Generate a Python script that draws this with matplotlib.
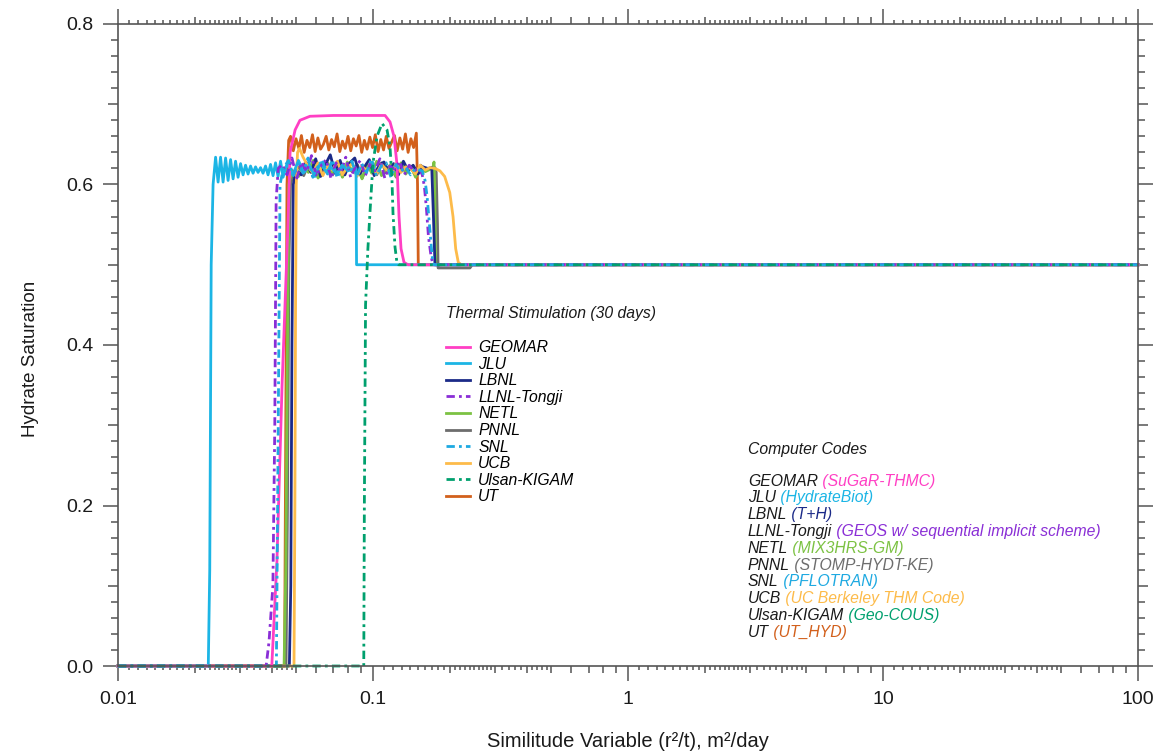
import numpy as np
import matplotlib
matplotlib.use("Agg")
import matplotlib.pyplot as plt

plt.rcParams['font.family'] = ['Liberation Sans', 'DejaVu Sans']

# hydrate saturation profiles vs similitude variable (r^2/t) after 30 days of heating
geomar_x = [0.01, 0.0401, 0.0420, 0.0440, 0.0464, 0.0469, 0.0473, 0.0495, 0.0517, 0.0566, 0.0700,
            0.0900, 0.1115, 0.1166, 0.1209, 0.1242, 0.1265, 0.1288, 0.1323, 0.1372, 100]
geomar_s = [0, 0, 0.13, 0.35, 0.55, 0.60, 0.640, 0.668, 0.680, 0.685, 0.686,
            0.686, 0.686, 0.678, 0.660, 0.625, 0.560, 0.520, 0.503, 0.500, 0.500]

jlu_x = [0.01, 0.0226, 0.0229, 0.0232, 0.0236,
         0.02414, 0.02469, 0.02525, 0.02583, 0.02642, 0.02702, 0.02764, 0.02827, 0.02891, 0.02957,
         0.03025, 0.03094, 0.03164, 0.03236, 0.03310, 0.03386, 0.03463, 0.03542, 0.03623, 0.03706,
         0.03790, 0.03877, 0.03965, 0.04056, 0.04148, 0.04243, 0.04340, 0.04439,
         0.0460, 0.0485, 0.0510, 0.0536, 0.0563, 0.0592, 0.0622, 0.0654, 0.0687, 0.0722, 0.0759,
         0.0797, 0.0830, 0.0858, 0.0862, 100]
jlu_s = [0, 0, 0.12, 0.50, 0.60,
         0.634, 0.603, 0.634, 0.603, 0.633, 0.605, 0.631, 0.607, 0.629, 0.609,
         0.626, 0.612, 0.624, 0.613, 0.623, 0.614, 0.622, 0.615, 0.621, 0.614,
         0.623, 0.612, 0.625, 0.611, 0.627, 0.610, 0.629, 0.609,
         0.626, 0.612, 0.630, 0.615, 0.624, 0.610, 0.627, 0.616, 0.621, 0.613, 0.624,
         0.617, 0.619, 0.620, 0.500, 0.500]

lbnl_x = [0.01, 0.0470, 0.0476, 0.0481, 0.0487,
          0.0500, 0.0523, 0.0546, 0.0571, 0.0596, 0.0623, 0.0651, 0.0680, 0.0711, 0.0743,
          0.0776, 0.0811, 0.0848, 0.0886, 0.0926, 0.0967, 0.1011, 0.1056, 0.1104, 0.1153,
          0.1205, 0.1259, 0.1316, 0.1375, 0.1437, 0.1502, 0.1570, 0.1640,
          0.1700, 0.1726, 0.1750, 100]
lbnl_s = [0, 0, 0.10, 0.40, 0.60,
          0.618, 0.612, 0.628, 0.615, 0.632, 0.610, 0.625, 0.637, 0.614, 0.630,
          0.612, 0.627, 0.633, 0.613, 0.622, 0.631, 0.611, 0.624, 0.628, 0.615,
          0.626, 0.612, 0.629, 0.617, 0.624, 0.613, 0.622, 0.620,
          0.621, 0.560, 0.500, 0.500]

llnl_x = [0.01, 0.0381, 0.0391, 0.0405, 0.0412, 0.0417, 0.0425,
          0.0440, 0.0460, 0.0481, 0.0503, 0.0525, 0.0549, 0.0574, 0.0600, 0.0627, 0.0655,
          0.0685, 0.0716, 0.0748, 0.0782, 0.0817, 0.0854, 0.0892, 0.0933, 0.0975, 0.1019,
          0.1064, 0.1112, 0.1163, 0.1215, 0.1270, 0.1327, 0.1387, 0.1449, 0.1500,
          0.1530, 0.1560, 0.1590, 0.1620, 0.1650, 0.1690, 0.1720, 100]
llnl_s = [0, 0, 0.03, 0.10, 0.30, 0.58, 0.62,
          0.625, 0.612, 0.633, 0.608, 0.628, 0.616, 0.636, 0.610, 0.624, 0.631,
          0.607, 0.627, 0.615, 0.634, 0.609, 0.622, 0.630, 0.611, 0.626, 0.617,
          0.632, 0.608, 0.623, 0.619, 0.629, 0.612, 0.624, 0.616, 0.621,
          0.618, 0.612, 0.598, 0.570, 0.535, 0.510, 0.500, 0.500]

netl_x = [0.01, 0.0448, 0.0455, 0.0462, 0.0468, 0.0480,
          0.0511, 0.0534, 0.0558, 0.0583, 0.0609, 0.0637, 0.0665, 0.0695, 0.0727, 0.0759,
          0.0793, 0.0829, 0.0867, 0.0906, 0.0946, 0.0989, 0.1033, 0.1080, 0.1128, 0.1179,
          0.1232, 0.1288, 0.1345, 0.1406, 0.1469, 0.1535, 0.1604, 0.1676,
          0.1715, 0.1735, 0.1745, 0.1760, 100]
netl_s = [0, 0, 0.12, 0.40, 0.60, 0.618,
          0.610, 0.624, 0.615, 0.630, 0.608, 0.621, 0.627, 0.612, 0.625, 0.609,
          0.628, 0.616, 0.622, 0.607, 0.626, 0.614, 0.629, 0.611, 0.620, 0.625,
          0.610, 0.627, 0.613, 0.623, 0.609, 0.621, 0.616, 0.619,
          0.620, 0.628, 0.600, 0.500, 0.500]

pnnl_x = [0.01, 0.0456, 0.0462, 0.0468, 0.0475,
          0.0490, 0.0512, 0.0535, 0.0559, 0.0584, 0.0610, 0.0638, 0.0666, 0.0696, 0.0728,
          0.0760, 0.0795, 0.0830, 0.0868, 0.0907, 0.0948, 0.0990, 0.1035, 0.1081, 0.1130,
          0.1181, 0.1234, 0.1290, 0.1348, 0.1408, 0.1472, 0.1538, 0.1607, 0.1680,
          0.1750, 0.1770, 0.1790, 0.1800, 0.2400, 0.2450, 100]
pnnl_s = [0, 0, 0.20, 0.50, 0.60,
          0.615, 0.622, 0.611, 0.626, 0.617, 0.609, 0.624, 0.619, 0.613, 0.628,
          0.610, 0.621, 0.616, 0.625, 0.608, 0.622, 0.618, 0.612, 0.627, 0.614,
          0.620, 0.609, 0.625, 0.616, 0.621, 0.611, 0.624, 0.618, 0.620,
          0.621, 0.615, 0.550, 0.496, 0.496, 0.500, 0.500]

snl_x = [0.01, 0.0418, 0.0425, 0.0432,
         0.0445, 0.0466, 0.0487, 0.0509, 0.0532, 0.0556, 0.0581, 0.0607, 0.0635, 0.0663,
         0.0693, 0.0724, 0.0757, 0.0791, 0.0827, 0.0864, 0.0903, 0.0944, 0.0986, 0.1031,
         0.1077, 0.1126, 0.1176, 0.1229, 0.1285, 0.1343, 0.1403, 0.1466, 0.1520,
         0.1560, 0.1600, 0.1630, 0.1660, 0.1690, 0.1710, 0.1730, 100]
snl_s = [0, 0, 0.30, 0.60,
         0.620, 0.630, 0.611, 0.626, 0.614, 0.633, 0.609, 0.622, 0.628, 0.613,
         0.631, 0.608, 0.624, 0.618, 0.629, 0.610, 0.626, 0.615, 0.632, 0.611,
         0.623, 0.627, 0.609, 0.625, 0.616, 0.622, 0.612, 0.620, 0.618,
         0.617, 0.605, 0.585, 0.555, 0.525, 0.508, 0.500, 0.500]

ucb_x = [0.01, 0.0490, 0.0494, 0.0497, 0.0500, 0.0506, 0.0515, 0.0530,
         0.0557, 0.0582, 0.0608, 0.0636, 0.0664, 0.0694, 0.0725, 0.0758, 0.0792, 0.0828,
         0.0865, 0.0904, 0.0945, 0.0987, 0.1032, 0.1078, 0.1127, 0.1177, 0.1230, 0.1286,
         0.1344, 0.1404, 0.1467, 0.1533, 0.1602, 0.1674, 0.1750,
         0.1830, 0.1910, 0.2000, 0.2060, 0.2110, 0.2160, 0.2220, 100]
ucb_s = [0, 0, 0.20, 0.45, 0.60, 0.640, 0.645, 0.635,
         0.622, 0.614, 0.627, 0.611, 0.624, 0.618, 0.629, 0.612, 0.621, 0.626,
         0.610, 0.623, 0.617, 0.628, 0.613, 0.625, 0.619, 0.611, 0.626, 0.615,
         0.622, 0.620, 0.613, 0.624, 0.618, 0.621, 0.620,
         0.617, 0.610, 0.590, 0.560, 0.520, 0.503, 0.500, 0.500]

ulsan_x = [0.01, 0.0920, 0.0925, 0.0935, 0.0955, 0.0973, 0.1000, 0.1037, 0.1085,
           0.1135, 0.1166, 0.1187, 0.1198, 0.1220, 0.1242, 0.1260, 100]
ulsan_s = [0, 0, 0.20, 0.45, 0.52, 0.565, 0.627, 0.660, 0.676,
           0.668, 0.647, 0.606, 0.564, 0.522, 0.502, 0.500, 0.500]

ut_x = [0.01, 0.0450, 0.0455, 0.0460, 0.0467,
        0.0475, 0.0487, 0.0499, 0.0512, 0.0524, 0.0537, 0.0551, 0.0565, 0.0579, 0.0593,
        0.0608, 0.0623, 0.0639, 0.0655, 0.0671, 0.0688, 0.0705, 0.0723, 0.0741, 0.0759,
        0.0778, 0.0798, 0.0818, 0.0838, 0.0859, 0.0881, 0.0903, 0.0925, 0.0948, 0.0972,
        0.0996, 0.1021, 0.1047, 0.1073, 0.1100, 0.1127, 0.1155, 0.1184, 0.1214, 0.1244,
        0.1275, 0.1307, 0.1340, 0.1373, 0.1408, 0.1443, 0.1479,
        0.1495, 0.1505, 100]
ut_s = [0, 0, 0.30, 0.60, 0.655,
        0.660, 0.642, 0.657, 0.645, 0.661, 0.640, 0.655, 0.646, 0.662, 0.641,
        0.658, 0.644, 0.650, 0.660, 0.643, 0.656, 0.647, 0.663, 0.641, 0.654,
        0.645, 0.660, 0.642, 0.657, 0.648, 0.661, 0.640, 0.655, 0.644, 0.659,
        0.646, 0.662, 0.641, 0.656, 0.643, 0.660, 0.645, 0.653, 0.661, 0.642,
        0.658, 0.644, 0.663, 0.640, 0.657, 0.646, 0.664,
        0.600, 0.500, 0.500]

groups = ['GEOMAR', 'JLU', 'LBNL', 'LLNL-Tongji', 'NETL', 'PNNL', 'SNL', 'UCB', 'Ulsan-KIGAM', 'UT']
codes = ['SuGaR-THMC', 'HydrateBiot', 'T+H', 'GEOS w/ sequential implicit scheme', 'MIX3HRS-GM',
         'STOMP-HYDT-KE', 'PFLOTRAN', 'UC Berkeley THM Code', 'Geo-COUS', 'UT_HYD']
colors = ['#ff3fc4', '#1cb5e5', '#1b2a88', '#8a2ed6', '#7cc243',
          '#6d6d6d', '#1ea9e1', '#fdbb4a', '#00a06e', '#d2601c']
dashdot = (0, (3, 1.5, 1, 1.5))
styles = ['-', '-', '-', dashdot, '-', '-', dashdot, '-', dashdot, '-']

series = {
    'GEOMAR': (geomar_x, geomar_s),
    'JLU': (jlu_x, jlu_s),
    'LBNL': (lbnl_x, lbnl_s),
    'LLNL-Tongji': (llnl_x, llnl_s),
    'NETL': (netl_x, netl_s),
    'PNNL': (pnnl_x, pnnl_s),
    'SNL': (snl_x, snl_s),
    'UCB': (ucb_x, ucb_s),
    'Ulsan-KIGAM': (ulsan_x, ulsan_s),
    'UT': (ut_x, ut_s),
}
# drawing order (dash-dot curves last so they stay visible)
draw_order = ['UT', 'PNNL', 'NETL', 'LBNL', 'UCB', 'JLU', 'GEOMAR', 'LLNL-Tongji', 'SNL', 'Ulsan-KIGAM']

fig = plt.figure(figsize=(11.59, 7.54), dpi=100)
ax = fig.add_axes([0.1018, 0.1167, 0.8801, 0.8515])

handles = {}
for name in draw_order:
    i = groups.index(name)
    x, s = series[name]
    line, = ax.plot(x, s, color=colors[i], linestyle=styles[i], lw=2.0, clip_on=False)
    handles[name] = line

ax.set_xscale('log')
ax.set_xlim(0.01, 100)
ax.set_ylim(0, 0.8)

# x ticks: decades (labelled), integer multiples (medium) and finer subdivisions (small)
decades = [0.01, 0.1, 1, 10, 100]
mid_ticks = [d * m for d in decades[:-1] for m in range(2, 10)]
fine_mult = [1.1, 1.2, 1.3, 1.4, 1.5, 1.6, 1.7, 1.8, 1.9,
             2.1, 2.2, 2.3, 2.4, 2.5, 2.6, 2.7, 2.8, 2.9,
             3.2, 3.4, 3.6, 3.8, 4.2, 4.4, 4.6, 4.8]
fine_ticks = [d * m for d in decades[:-1] for m in fine_mult]
ax.set_xticks(decades + mid_ticks, ['0.01', '0.1', '1', '10', '100'] + [''] * len(mid_ticks))
ax.set_xticks(fine_ticks, [''] * len(fine_ticks), minor=True)

yt = [0.0, 0.1, 0.2, 0.3, 0.4, 0.5, 0.6, 0.7, 0.8]
ax.set_yticks(yt, ['0.0', '', '0.2', '', '0.4', '', '0.6', '', '0.8'])
ax.set_yticks(np.arange(0, 0.81, 0.02), minor=True)

axis_col = '#555555'
for sp in ax.spines.values():
    sp.set_color(axis_col)
    sp.set_linewidth(1.2)
ax.tick_params(which='both', direction='out', top=True, right=True, color=axis_col, width=1.1,
               labelsize=14, labelcolor='#1a1a1a')
ax.tick_params(which='major', length=10.8, pad=7)
ax.tick_params(axis='x', which='minor', length=2.9)
ax.tick_params(axis='y', which='minor', length=5.2)

ax.set_xlabel('Similitude Variable (r²/t), m²/day', fontsize=14.5, color='#1a1a1a')
ax.set_ylabel('Hydrate Saturation', fontsize=13.5, color='#1a1a1a')
ax.xaxis.set_label_coords(0.5, -0.103)
ax.yaxis.set_label_coords(-0.077, 0.478)

# legend
fs = 11.3
ax.text(0.3216, 0.5483, 'Thermal Stimulation (30 days)', transform=ax.transAxes,
        fontsize=fs, style='italic', va='center', ha='left', color='#1a1a1a')
ax.legend([handles[g] for g in groups], groups, loc='upper left',
          bbox_to_anchor=(0.3216, 0.5075), frameon=False, borderpad=0, borderaxespad=0,
          handlelength=1.55, handletextpad=0.5, labelspacing=0.1,
          prop={'size': fs, 'style': 'italic'})

# code names
ax.text(0.6176, 0.338, 'Computer Codes', transform=ax.transAxes, fontsize=fs,
        style='italic', va='center', ha='left', color='#1a1a1a')
for i, (g, c) in enumerate(zip(groups, codes)):
    t = ax.text(0.6176, 0.288 - i * 0.02617, g, transform=ax.transAxes, fontsize=fs,
                style='italic', va='center', ha='left', color='#1a1a1a')
    ax.annotate(' (' + c + ')', xy=(1, 0), xycoords=t, va='bottom', ha='left',
                fontsize=fs, style='italic', color=colors[i])

# shorten the non-decade major ticks
fig.canvas.draw()
for tick in ax.xaxis.get_major_ticks():
    if not np.any(np.isclose(tick.get_loc(), decades)):
        tick.tick1line.set_markersize(5.0)
        tick.tick2line.set_markersize(5.0)
for tick in ax.yaxis.get_major_ticks():
    if round(tick.get_loc() * 10) % 2 == 1:
        tick.tick1line.set_markersize(7.2)
        tick.tick2line.set_markersize(7.2)

fig.savefig('out.png', dpi=100)
